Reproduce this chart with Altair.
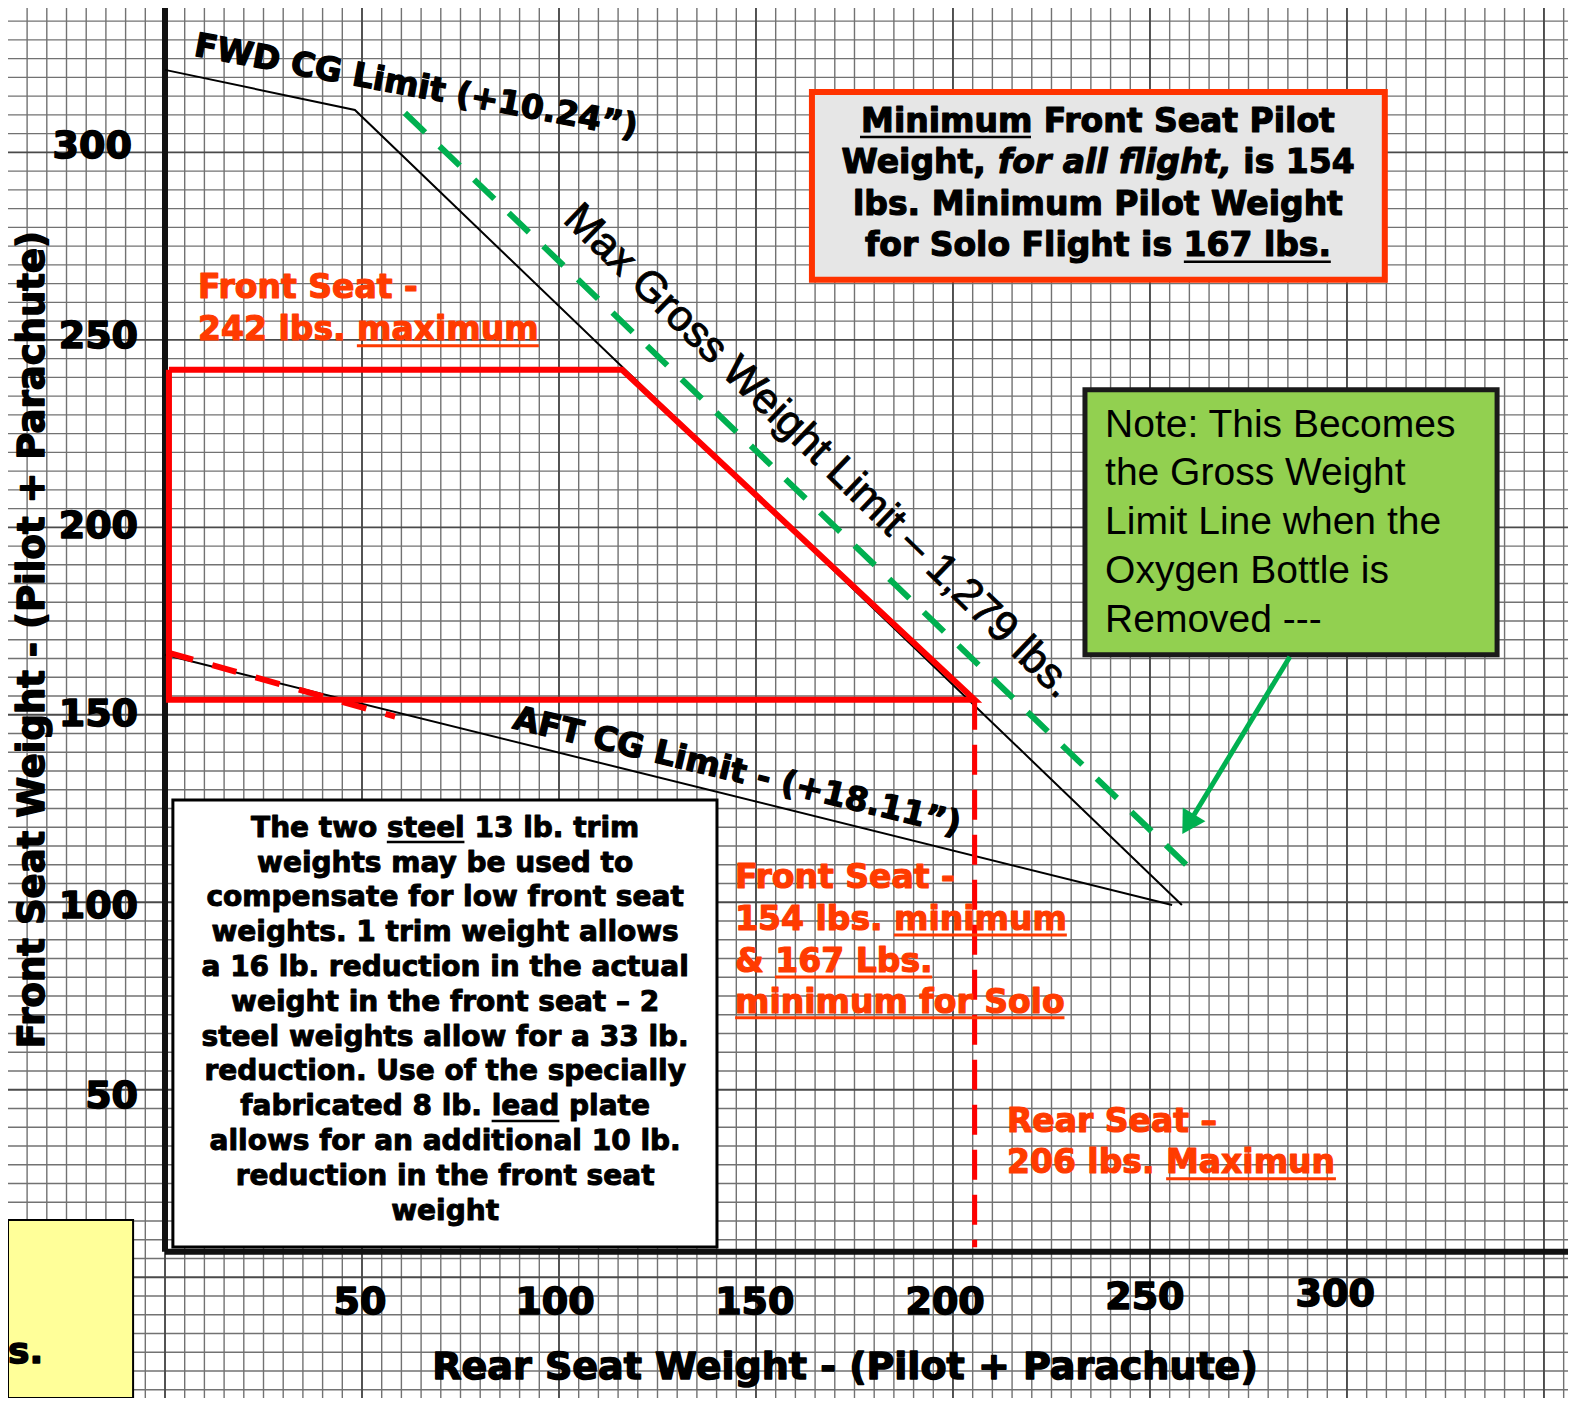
import altair as alt
import pandas as pd

# ------------------------------------------------------------------
# Chart values (lbs): rear seat weight (x) vs front seat weight (y)
# ------------------------------------------------------------------
fwd_cg_x = [0.0, 48.2, 258.1]
fwd_cg_y = [322.0, 311.3, 99.3]
aft_cg_x = [0.0, 255.6]
aft_cg_y = [166.0, 99.3]
envelope_x = [1.0, 116.0, 205.5, 1.0, 1.0]
envelope_y = [242.0, 242.0, 154.0, 154.0, 242.0]
solo_x = [1.0, 58.4]
solo_y = [166.5, 149.5]
rear_max_x = [205.5, 205.5]
rear_max_y = [154.0, 8.0]
oxygen_x = [60.9, 262.7]
oxygen_y = [310.5, 106.5]
arrow_x = [285.5, 261.0]
arrow_y = [165.5, 123.0]
x_tick_labels = ["50", "100", "150", "200", "250", "300"]
y_tick_labels = ["300", "250", "200", "150", "100", "50"]

# ------------------------------------------------------------------
# Layout (data units)
# ------------------------------------------------------------------
X_DOM = [-39.85, 356.1]
Y_DOM = [-32.2, 338.5]
AXIS_Y = 6.8
xs = alt.Scale(domain=X_DOM, nice=False, zero=False)
ys = alt.Scale(domain=Y_DOM, nice=False, zero=False)

BOLD = "DejaVu Sans"
PLAIN = "Liberation Sans"
RED = "#ff0000"
ORANGE = "#ff3b00"
GREEN = "#00b050"


def X(f="x"):
    return alt.X(f"{f}:Q", scale=xs, axis=None)


def Y(f="y"):
    return alt.Y(f"{f}:Q", scale=ys, axis=None)


def polyline(xv, yv, color, width, dash=None):
    df = pd.DataFrame({"x": xv, "y": yv, "i": list(range(len(xv)))})
    kw = dict(color=color, strokeWidth=width, strokeCap="butt", strokeJoin="miter")
    if dash:
        kw["strokeDash"] = dash
    return alt.Chart(df).mark_line(**kw).encode(x=X(), y=Y(), order="i:Q")


def box(x1, x2, y1, y2, fill, stroke, width):
    df = pd.DataFrame({"x": [x1], "x2": [x2], "y": [y1], "y2": [y2]})
    return alt.Chart(df).mark_rect(fill=fill, stroke=stroke, strokeWidth=width, opacity=1).encode(
        x=X(), x2="x2:Q", y=Y(), y2="y2:Q")


def text(xv, yv, labels, size, color="black", align="center", angle=0,
         weight="bold", font=BOLD, style="normal", baseline="middle", heavy=0.0):
    df = pd.DataFrame({"x": xv, "y": yv, "t": labels})
    kw = dict(fontSize=size, fill=color, align=align, angle=angle, fontWeight=weight,
              font=font, fontStyle=style, baseline=baseline)
    if heavy > 0:
        kw["stroke"] = color
        kw["strokeWidth"] = heavy
        kw["strokeJoin"] = "round"
    return alt.Chart(df).mark_text(**kw).encode(x=X(), y=Y(), text="t:N")


def underline(x1s, x2s, yv, color="black", width=2.5):
    df = pd.DataFrame({"x": x1s, "x2": x2s, "y": yv})
    return alt.Chart(df).mark_rule(color=color, strokeWidth=width).encode(x=X(), x2="x2:Q", y=Y())


layers = []

# graph-paper grid
minor_x = [v for v in range(-35, 360, 5) if v % 50]
major_x = list(range(0, 360, 50))
minor_y = [v for v in range(-30, 340, 5) if v % 50]
major_y = list(range(0, 340, 50))
layers.append(alt.Chart(pd.DataFrame({"x": minor_x})).mark_rule(color="#727272", strokeWidth=1.4).encode(x=X()))
layers.append(alt.Chart(pd.DataFrame({"y": minor_y})).mark_rule(color="#727272", strokeWidth=1.4).encode(y=Y()))
layers.append(alt.Chart(pd.DataFrame({"x": major_x})).mark_rule(color="#4a4a4a", strokeWidth=1.9).encode(x=X()))
layers.append(alt.Chart(pd.DataFrame({"y": major_y})).mark_rule(color="#4a4a4a", strokeWidth=1.9).encode(y=Y()))

# main axes
axes_df = pd.DataFrame({"x": [0.0, 0.0], "x2": [0.0, X_DOM[1]],
                        "y": [Y_DOM[1], AXIS_Y], "y2": [AXIS_Y, AXIS_Y]})
layers.append(alt.Chart(axes_df).mark_rule(color="#111111", strokeWidth=6).encode(
    x=X(), x2="x2:Q", y=Y(), y2="y2:Q"))

# limit lines
layers.append(polyline(fwd_cg_x, fwd_cg_y, "black", 2))
layers.append(polyline(aft_cg_x, aft_cg_y, "black", 2))
layers.append(polyline(oxygen_x, oxygen_y, GREEN, 6, [28, 20]))
layers.append(polyline(envelope_x, envelope_y, RED, 6))
layers.append(polyline(solo_x, solo_y, RED, 6, [25, 20]))
layers.append(polyline(rear_max_x, rear_max_y, RED, 5, [30, 15]))

# boxes
layers.append(box(164.2, 309.6, 316.1, 266.0, "#e6e6e6", "#ff3300", 6))
layers.append(box(233.5, 338.1, 236.7, 166.0, "#92d050", "#1a1a1a", 5))
layers.append(box(2.0, 140.1, 127.3, 8.1, "white", "black", 3))
layers.append(box(X_DOM[0], -8.1, 15.3, Y_DOM[0], "#ffff99", "black", 2))

# green arrow
layers.append(polyline(arrow_x, arrow_y, GREEN, 5))
layers.append(alt.Chart(pd.DataFrame({"x": [260.2], "y": [121.7]})).mark_point(
    shape="triangle", filled=True, color=GREEN, size=700, angle=211, opacity=1).encode(x=X(), y=Y()))

# tick labels
layers.append(text([-8.4, -6.85, -6.85, -6.85, -6.85, -6.85],
                   [301.5, 250.8, 200.1, 150.0, 98.8, 48.1], y_tick_labels, 38, align="right", heavy=1.6))
layers.append(text([49.5, 99.0, 149.7, 198.0, 248.7, 297.0],
                   [-6.8, -6.8, -6.8, -6.8, -5.5, -4.7], x_tick_labels, 38, heavy=1.6))

# axis titles
layers.append(text([-33.4], [170.0], ["Front Seat Weight - (Pilot + Parachute)"], 37, angle=270, heavy=1.5))
layers.append(text([172.6], [-24.1], ["Rear Seat Weight - (Pilot + Parachute)"], 38, heavy=1.5))

# line labels
layers.append(text([63.7], [317.5], ["FWD CG  Limit (+10.24\u201d)"], 33, angle=10.5, heavy=1.3))
layers.append(text([166.0], [220.3], ["Max Gross Weight Limit \u2013 1,279 lbs."], 43,
                   angle=44, weight="normal", font=PLAIN, heavy=0.9))
layers.append(text([145.2], [134.8], ["AFT CG Limit - (+18.11\u201d)"], 33, angle=13.5, heavy=1.3))

# red labels
layers.append(text([8.4, 8.4], [263.9, 252.7], ["Front Seat -", "242 lbs. maximum"], 33,
                   color=ORANGE, align="left", heavy=1.2))
layers.append(underline([48.7], [94.9], [248.4], ORANGE, 3))
layers.append(text([144.7] * 4, [106.5, 95.3, 84.1, 73.2],
                   ["Front Seat -", "154 lbs. minimum", "& 167 Lbs.", "minimum for Solo"], 33,
                   color=ORANGE, align="left", heavy=1.2))
layers.append(underline([185.0, 154.8, 144.7], [228.9, 194.7, 228.3], [91.3, 80.1, 69.2], ORANGE, 3))
layers.append(text([213.7, 213.7], [41.5, 30.5], ["Rear Seat \u2013", "206 lbs. Maximun"], 33,
                   color=ORANGE, align="left", heavy=1.2))
layers.append(underline([254.1], [297.2], [26.3], ORANGE, 3))

# red-bordered box text
layers.append(text([236.8, 236.8, 236.8], [308.1, 286.0, 275.1],
                   ["Minimum Front Seat Pilot", "lbs. Minimum Pilot Weight", "for Solo Flight is 167 lbs."],
                   33, heavy=1.2))
layers.append(text([171.7, 273.7], [297.2, 297.2], ["Weight,", "is 154"], 33, align="left", heavy=1.2))
layers.append(text([211.4], [297.2], ["for all flight,"], 33, align="left", style="italic", heavy=1.2))
layers.append(underline([176.4, 258.6], [219.8, 295.9], [304.1, 270.8], "black", 2.5))

# green box text
layers.append(text([238.6] * 5, [227.3, 214.5, 201.5, 188.4, 175.3],
                   ["Note: This Becomes", "the Gross Weight", "Limit Line when the",
                    "Oxygen Bottle is", "Removed ---"], 39, align="left", weight="normal", font=PLAIN))

# white box text
note_lines = [
    "The two steel 13 lb. trim",
    "weights may be used to",
    "compensate for low front seat",
    "weights. 1 trim weight allows",
    "a 16 lb. reduction in the actual",
    "weight in the front seat \u2013 2",
    "steel weights allow for a 33 lb.",
    "reduction. Use of the specially",
    "fabricated 8 lb. lead plate",
    "allows for an additional 10 lb.",
    "reduction in the front seat",
    "weight",
]
layers.append(text([71.1] * len(note_lines), [119.6 - i * 9.28 for i in range(len(note_lines))],
                   note_lines, 28, heavy=1.0))
layers.append(underline([56.3, 82.9], [76.0, 100.1], [116.1, 41.7], "black", 2.5))

# yellow box fragment
layers.append(text([X_DOM[0]], [-19.9], ["s."], 36, align="left", heavy=1.5))

chart = alt.layer(*layers).properties(
    width=1560, height=1390,
    autosize=alt.AutoSizeParams(type="none"),
    padding={"left": 0, "top": 0, "right": 0, "bottom": 0},
    background="white",
).configure_view(strokeWidth=0)

chart.save("out.html", embed_options={"renderer": "svg", "actions": False})
